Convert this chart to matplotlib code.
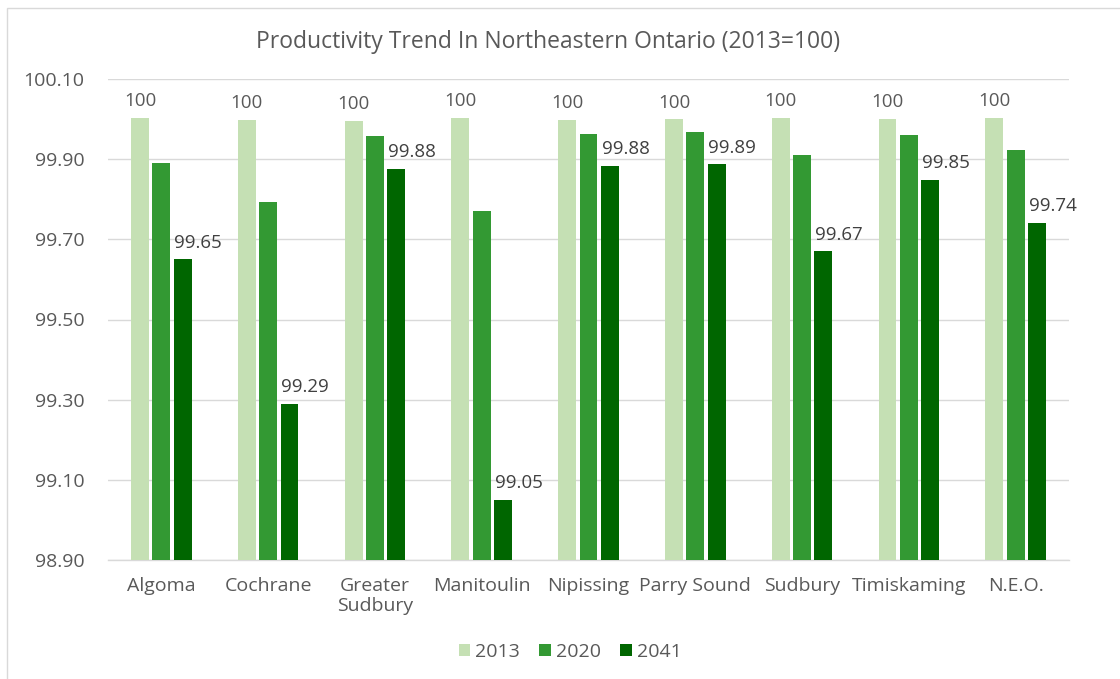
import numpy as np
import matplotlib
matplotlib.use("Agg")
import matplotlib.pyplot as plt
from matplotlib.patches import Rectangle

# DATOS DEL GRAFICO
regiones = ["Algoma", "Cochrane", "Greater\nSudbury", "Manitoulin", "Nipissing",
            "Parry Sound", "Sudbury", "Timiskaming", "N.E.O."]
anios = ["2013", "2020", "2041"]
valores_2013 = [100.002, 99.998, 99.996, 100.003, 99.998, 99.999, 100.003, 100.000, 100.003]
valores_2020 = [99.891, 99.792, 99.958, 99.770, 99.963, 99.968, 99.911, 99.960, 99.922]
valores_2041 = [99.65, 99.29, 99.876, 99.05, 99.884, 99.887, 99.67, 99.848, 99.74]
ticks_y = [98.90, 99.10, 99.30, 99.50, 99.70, 99.90, 100.10]

colores = ["#C5E0B4", "#339933", "#006600"]
gris_texto = "#595959"
gris_linea = "#D9D9D9"

plt.rcParams["font.family"] = ["Open Sans", "DejaVu Sans"]

fig = plt.figure(figsize=(11.2, 6.79), dpi=100)
ax = fig.add_axes([108 / 1120, 1 - 560 / 679, (1069 - 108) / 1120, (560 - 79) / 679])

# borde del area del grafico
fig.patches.append(Rectangle((7 / 1120, -0.05), 1.1, 1 - 8 / 679 + 0.05,
                             transform=fig.transFigure, fill=False,
                             edgecolor=gris_linea, linewidth=1))

x = np.arange(len(regiones))
ancho = 0.168
paso = 0.2
series = [valores_2013, valores_2020, valores_2041]
barras = []
for i in range(3):
    b = ax.bar(x + (i - 1) * paso, np.array(series[i]) - 98.9, width=ancho,
               bottom=98.9, color=colores[i], label=anios[i], zorder=3)
    barras.append(b)

# etiquetas 2013 (centradas) y 2041 (alineadas a la izquierda)
for j in range(len(regiones)):
    ax.annotate(f"{valores_2013[j]:.0f}", (x[j] - paso, valores_2013[j]),
                xytext=(0, 8.5), textcoords="offset points", ha="center",
                va="baseline", fontsize=13.5, color=gris_texto)
    ax.annotate(f"{valores_2041[j]:.2f}", (x[j] + paso - ancho / 2, valores_2041[j]),
                xytext=(0.5, 8.5), textcoords="offset points", ha="left",
                va="baseline", fontsize=13.5, color="#404040")

ax.set_ylim(98.9, 100.1)
ax.set_xlim(-0.5, len(regiones) - 0.5)
ax.set_yticks(ticks_y)
ax.set_yticklabels([f"{t:.2f}" for t in ticks_y])
ax.set_xticks(x)
ax.set_xticklabels(regiones, linespacing=1.15)
ax.tick_params(axis="y", length=0, pad=17, labelsize=14, labelcolor=gris_texto)
ax.tick_params(axis="x", length=0, pad=12, labelsize=14, labelcolor=gris_texto)
ax.grid(axis="y", color=gris_linea, linewidth=1, zorder=0)
for lado in ["top", "right", "left"]:
    ax.spines[lado].set_visible(False)
ax.spines["bottom"].set_color(gris_linea)
ax.spines["bottom"].set_linewidth(1)

fig.text(548 / 1120, 1 - 42 / 679, "Productivity Trend In Northeastern Ontario (2013=100)",
         ha="center", va="center", fontsize=16.5, color=gris_texto)

fig.legend(handles=barras, labels=anios, loc="center", bbox_to_anchor=(570 / 1120, 1 - 652 / 679),
           ncol=3, frameon=False, fontsize=14, labelcolor=gris_texto,
           handlelength=0.6, handleheight=0.6, handletextpad=0.25, columnspacing=1.0)

plt.savefig("out.png", dpi=100)
